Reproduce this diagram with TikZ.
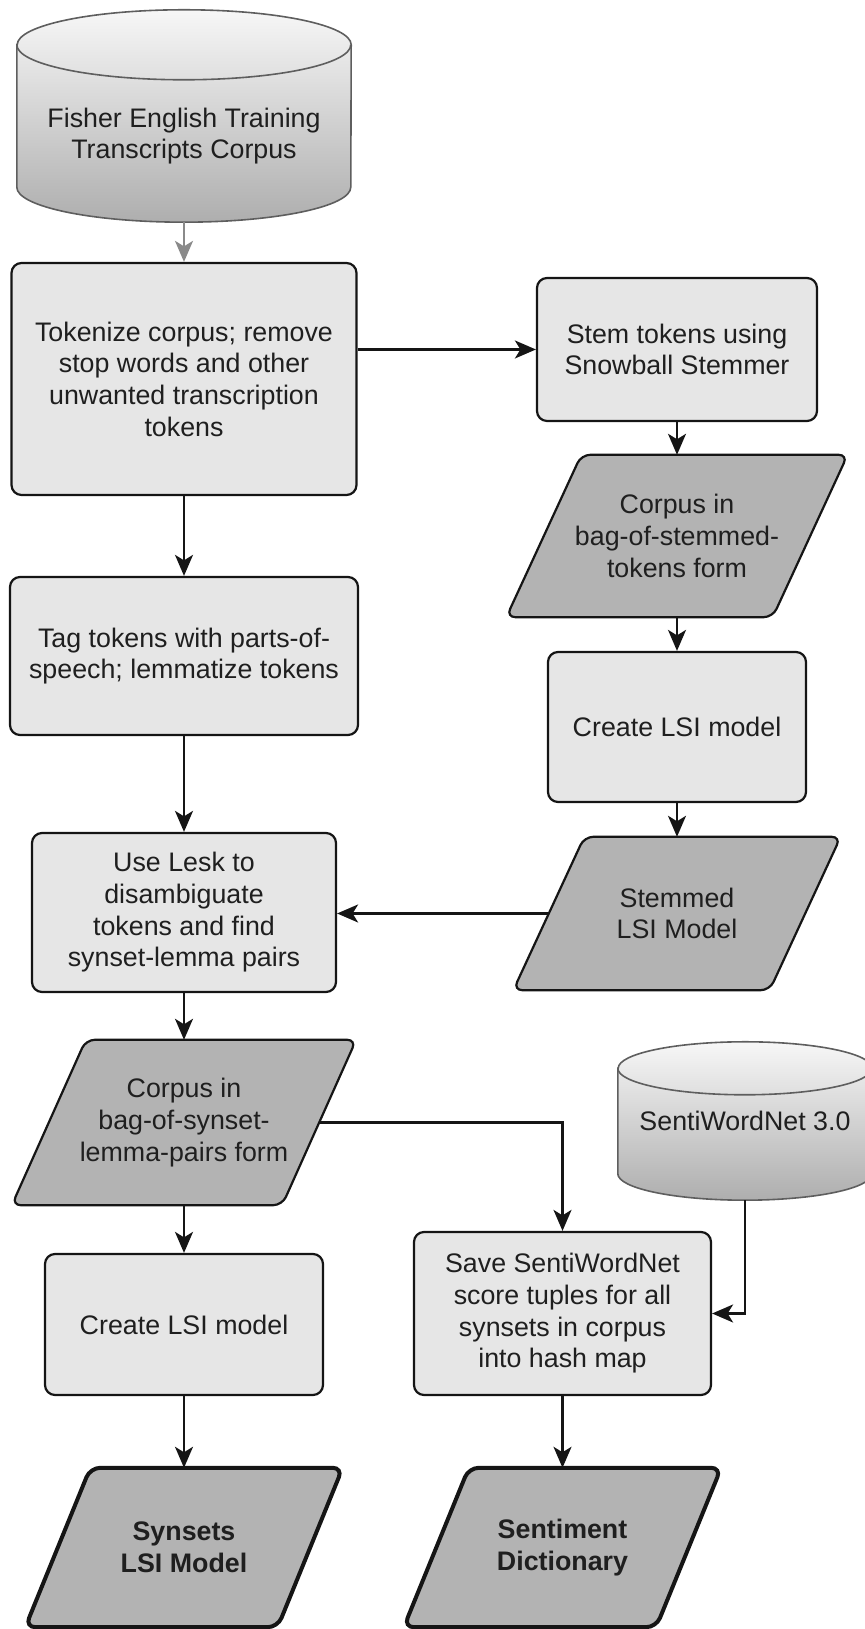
\documentclass[tikz,border=0pt]{standalone}
\usepackage{fontspec}
\setmainfont{Liberation Sans}
\usetikzlibrary{arrows.meta,backgrounds,calc}

\definecolor{boxfill}{HTML}{E6E6E6}
\definecolor{parafill}{HTML}{B3B3B3}
\definecolor{cyltop}{HTML}{F7F7F7}
\definecolor{cylbottom}{HTML}{AEAEAE}
\definecolor{cylline}{HTML}{5E5E5E}
\definecolor{edgeline}{HTML}{151515}
\definecolor{feedline}{HTML}{8A8A8A}

\tikzset{
  txt/.style={align=center, text=black!88, font=\fontsize{26.8}{31.7}\selectfont, inner sep=0pt},
  procbox/.style={txt, draw=edgeline, line width=2.2pt, fill=boxfill, rounded corners=10pt},
  iobox/.style={txt, rectangle},
  paraline/.style={draw=edgeline, line width=2.2pt, fill=parafill, rounded corners=9pt},
  paraheavy/.style={draw=edgeline, line width=4pt, fill=parafill, rounded corners=10pt},
  cylbody/.style={draw=cylline, line width=1.6pt, shading=axis, top color=cyltop, bottom color=cylbottom},
  flow/.style={-{Stealth[length=21pt,width=18pt,inset=5.5pt]}, line width=2.1pt, draw=edgeline},
  feed/.style={flow, draw=feedline},
}

% parallelogram around an invisible node: #1 node, #2 horizontal skew, #3 style
\newcommand\drawpara[3]{%
  \path[#3] ([xshift=-#2/2]#1.south west) -- ([xshift=-#2/2]#1.south east)
    -- ([xshift=#2/2]#1.north east) -- ([xshift=#2/2]#1.north west) -- cycle;}

% upright cylinder filling the box of node #1: #2 half width, #3 cap radius
\newcommand\drawcyl[3]{%
  \path[cylbody] ($(#1.north west)+(0,-#3)$) -- ($(#1.south west)+(0,#3)$)
    arc[start angle=180,end angle=360,x radius=#2,y radius=#3]
    -- ($(#1.north east)+(0,-#3)$)
    arc[start angle=0,end angle=180,x radius=#2,y radius=#3] -- cycle;
  \draw[draw=cylline, line width=1.6pt] ($(#1.north west)+(0,-#3)$)
    arc[start angle=180,end angle=360,x radius=#2,y radius=#3];}

\begin{document}
\begin{tikzpicture}[x=1pt,y=1pt]
\useasboundingbox (0,0) rectangle (864,1629);

% sources
\node[inner sep=0pt, minimum width=334pt, minimum height=212pt] (fisher) at (184,1513) {};
\node[txt] (fishertxt) at (184,1493) {Fisher English Training\\Transcripts Corpus};
\node[txt, minimum width=254pt, minimum height=158pt] (swn) at (745,508) {SentiWordNet 3.0};

% left column
\node[procbox, minimum width=345pt, minimum height=232pt] (tok) at (184,1250)
  {Tokenize corpus; remove\\stop words and other\\unwanted transcription\\tokens};
\node[procbox, minimum width=348pt, minimum height=158pt] (tag) at (184,973)
  {Tag tokens with parts-of-\\speech; lemmatize tokens};
\node[procbox, minimum width=304pt, minimum height=159pt] (lesk) at (184,716.5)
  {Use Lesk to\\disambiguate\\tokens and find\\synset-lemma pairs};
\node[iobox, minimum width=270pt, minimum height=165pt] (synbag) at (184,506.5)
  {Corpus in\\bag-of-synset-\\lemma-pairs form};
\node[procbox, minimum width=278pt, minimum height=141pt] (lsileft) at (184,304.5)
  {Create LSI model};
\node[iobox, font=\fontsize{26.8}{31.7}\selectfont\bfseries, minimum width=252pt, minimum height=159pt] (synlsi) at (184,81.5)
  {Synsets\\LSI Model};

% right column
\node[procbox, minimum width=280pt, minimum height=143pt] (stem) at (677,1279.5)
  {Stem tokens using\\Snowball Stemmer};
\node[iobox, minimum width=266pt, minimum height=162pt] (stembag) at (677,1093)
  {Corpus in\\bag-of-stemmed-\\tokens form};
\node[procbox, minimum width=258pt, minimum height=150pt] (lsiright) at (677,902)
  {Create LSI model};
\node[iobox, minimum width=256pt, minimum height=153pt] (stemlsi) at (677,715.5)
  {Stemmed\\LSI Model};
\node[procbox, minimum width=297pt, minimum height=163pt] (save) at (562.5,315.5)
  {Save SentiWordNet\\score tuples for all\\synsets in corpus\\into hash map};
\node[iobox, font=\fontsize{26.8}{31.7}\selectfont\bfseries, minimum width=252pt, minimum height=159pt] (sentdict) at (562.5,81.5)
  {Sentiment\\Dictionary};

% shapes behind the texts
\begin{scope}[on background layer]
  \drawcyl{fisher}{167}{35}
  \drawcyl{swn}{127}{26.5}
  \drawpara{stembag}{75}{paraline}
  \drawpara{stemlsi}{71}{paraline}
  \drawpara{synbag}{74}{paraline}
  \drawpara{synlsi}{65}{paraheavy}
  \drawpara{sentdict}{65}{paraheavy}
\end{scope}

% connectors
\draw[feed] (fisher.south) -- (tok.north);
\draw[flow] (tok.east |- stem.west) -- (stem.west);
\draw[flow] (tok.south) -- (tag.north);
\draw[flow] (tag.south) -- (lesk.north);
\draw[flow] (stem.south) -- (stembag.north);
\draw[flow] (stembag.south) -- (lsiright.north);
\draw[flow] (lsiright.south) -- (stemlsi.north);
\draw[flow] (stemlsi.west) -- (stemlsi.west -| lesk.east);
\draw[flow] (lesk.south) -- (synbag.north);
\draw[flow] (synbag.east) -| (save.north);
\draw[flow] (swn.south) |- (save.east);
\draw[flow] (synbag.south) -- (lsileft.north);
\draw[flow] (lsileft.south) -- (synlsi.north);
\draw[flow] (save.south) -- (sentdict.north);
\end{tikzpicture}
\end{document}
